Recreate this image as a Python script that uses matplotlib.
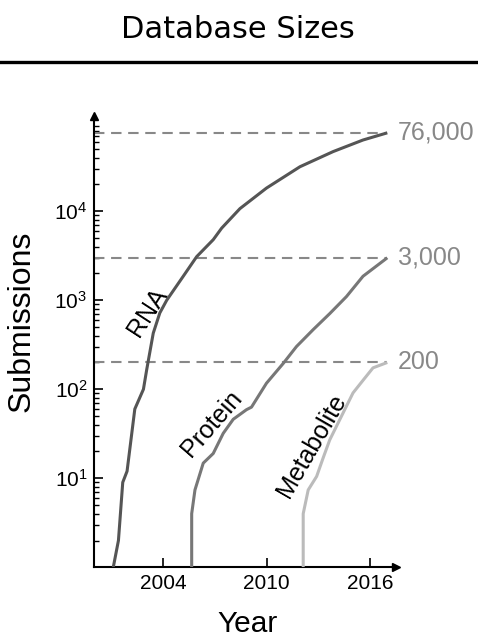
import matplotlib
matplotlib.use("Agg")
import matplotlib.pyplot as plt
from matplotlib.lines import Line2D
from matplotlib.ticker import FixedLocator, LogLocator, NullFormatter, FixedFormatter

plt.rcParams['font.family'] = ['Liberation Sans', 'DejaVu Sans']
plt.rcParams['mathtext.fontset'] = 'custom'
plt.rcParams['mathtext.rm'] = 'Liberation Sans'
plt.rcParams['mathtext.it'] = 'Liberation Sans:italic'

# ---- data ----
rna_years = [2001.1, 2001.4, 2001.65, 2001.9, 2002.35, 2002.85, 2003.04, 2003.42, 2003.8, 2004.2,
             2005.16, 2005.94, 2006.9, 2007.39, 2008.45, 2009.99, 2011.93, 2013.86, 2015.59, 2017.0]
rna_values = [1, 2, 9, 12, 60, 100, 166, 427, 720, 1000, 1860, 3090, 4790, 6460, 10700, 18200,
              31600, 46800, 63100, 76000]

protein_years = [2005.65, 2005.65, 2005.84, 2006.32, 2006.9, 2007.48, 2008.06, 2008.83, 2009.12,
                 2009.99, 2010.96, 2011.73, 2012.7, 2013.66, 2014.63, 2015.59, 2017.0]
protein_values = [1, 4, 7.4, 14.8, 19, 32, 46, 59, 63, 117, 195, 302, 468, 708, 1100, 1860, 3000]

metabolite_years = [2012.12, 2012.12, 2012.41, 2012.9, 2013.28, 2013.66, 2014.43, 2015.01,
                    2015.59, 2016.17, 2017.0]
metabolite_values = [1, 4, 7.4, 10.5, 17, 27, 54, 91, 126, 174, 200]

series_names = ["RNA", "Protein", "Metabolite"]
final_values = [76000, 3000, 200]
final_labels = ["76,000", "3,000", "200"]

x_ticks = [2004, 2010, 2016]
y_ticks = [10, 100, 1000, 10000]
y_tick_labels = [r'$\mathregular{10^{1}}$', r'$\mathregular{10^{2}}$',
                 r'$\mathregular{10^{3}}$', r'$\mathregular{10^{4}}$']

# ---- figure ----
fig = plt.figure(figsize=(4.78, 6.39), dpi=100)
ax = fig.add_axes([0.1973, 0.1122, 0.631, 0.7063])

colors = ["#555555", "#777777", "#bbbbbb"]
for yrs, vals, c in zip([rna_years, protein_years, metabolite_years],
                        [rna_values, protein_values, metabolite_values], colors):
    ax.plot(yrs, vals, color=c, lw=2.2, solid_capstyle='butt', solid_joinstyle='round',
            zorder=3)

for v, lab in zip(final_values, final_labels):
    ax.plot([2000, 2017], [v, v], color="#888888", lw=1.5, dashes=(5, 3.2), zorder=2)
    ax.text(2017.6, v, lab, color="#888888", fontsize=18, ha='left', va='center',
            clip_on=False)

ax.set_yscale('log')
ax.set_xlim(2000, 2017.5)
ax.set_ylim(1, 10 ** 5.07)

ax.xaxis.set_major_locator(FixedLocator(x_ticks))
ax.set_xticklabels([str(t) for t in x_ticks])
ax.yaxis.set_major_locator(FixedLocator(y_ticks))
ax.yaxis.set_major_formatter(FixedFormatter(y_tick_labels))
ax.yaxis.set_minor_locator(LogLocator(base=10, subs=range(2, 10), numticks=20))
ax.yaxis.set_minor_formatter(NullFormatter())

ax.tick_params(axis='both', which='major', direction='in', length=6.5, width=1.2,
               labelsize=15, pad=5)
ax.tick_params(axis='y', which='minor', direction='in', length=3.5, width=1.0)

for s in ['top', 'right']:
    ax.spines[s].set_visible(False)
for s in ['left', 'bottom']:
    ax.spines[s].set_linewidth(1.5)

# arrow heads
ax.plot(0, 1, marker='^', color='k', markersize=6, transform=ax.transAxes, clip_on=False)
ax.plot(1, 0, marker='>', color='k', markersize=6, transform=ax.transAxes, clip_on=False)

# series labels
ax.text(2003.07, 10 ** 2.865, series_names[0], rotation=57, fontsize=18,
        ha='center', va='center', rotation_mode='anchor')
ax.text(2006.8, 10 ** 1.61, series_names[1], rotation=49, fontsize=18,
        ha='center', va='center', rotation_mode='anchor')
ax.text(2012.6, 10 ** 1.37, series_names[2], rotation=60, fontsize=18,
        ha='center', va='center', rotation_mode='anchor')

# axis labels
fig.text(22 / 478, 1 - 321 / 639, "Submissions", rotation=90, fontsize=23,
         ha='center', va='center')
fig.text(248 / 478, 1 - 624 / 639, "Year", fontsize=21.5, ha='center', va='center')

# title and rule
fig.text(237.5 / 478, 1 - 29 / 639, "Database Sizes", fontsize=22,
         family='DejaVu Sans', ha='center', va='center')
fig.add_artist(Line2D([0, 1], [1 - 61.5 / 639, 1 - 61.5 / 639], color='black', lw=2.4,
                      transform=fig.transFigure))

fig.savefig("out.png", dpi=100)
